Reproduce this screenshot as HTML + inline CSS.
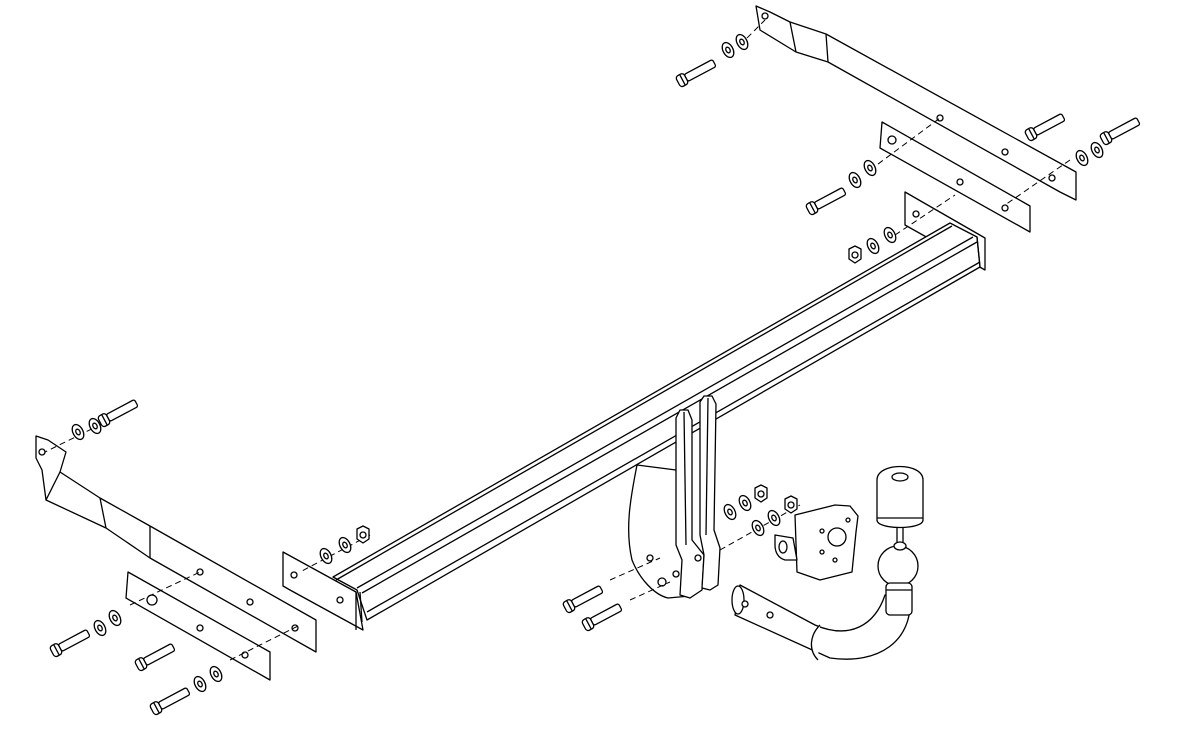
<!DOCTYPE html>
<html><head><meta charset="utf-8"><style>
html,body{margin:0;padding:0;background:#fff;width:1181px;height:736px;overflow:hidden}
svg{display:block}
</style></head><body>
<svg width="1181" height="736" viewBox="0 0 1181 736" xmlns="http://www.w3.org/2000/svg" fill="#fff" stroke="#000" stroke-width="1.3" stroke-linejoin="round">
<defs>
<g id="bolt"><rect x="0" y="-4" width="32" height="8" rx="2"/><rect x="-9" y="-6" width="9" height="12" rx="3"/><line x1="-4" y1="-6" x2="-4" y2="6"/></g>
<g id="wsh"><ellipse rx="5" ry="8"/><ellipse rx="2" ry="3"/></g>
<g id="nut"><polygon points="-6,-6 0,-9 6,-6 6,4 0,8 -6,4"/><ellipse rx="3" ry="3"/></g>
</defs>

<!-- right long bracket -->
<polygon points="756,6 770,12 790,22 826,34 1076,172 1076,200 1060,192 828,62 796,52 760,30"/>
<line x1="790" y1="22" x2="796" y2="52"/><line x1="826" y1="34" x2="828" y2="62"/>
<circle cx="765" cy="16" r="3"/>
<circle cx="940" cy="118" r="3"/><circle cx="1005" cy="152" r="3"/><circle cx="1052" cy="178" r="3"/>
<!-- right middle plate -->
<polygon points="882,122 1030,206 1030,232 880,148"/>
<circle cx="892" cy="140" r="4"/><circle cx="960" cy="182" r="3"/><circle cx="1005" cy="208" r="3"/>

<!-- right end plate (behind beam) -->
<polygon points="905,192 985,238 985,270 905,225"/>
<circle cx="916" cy="214" r="3"/>
<!-- main beam -->
<polygon points="333,577 950,223 977,237 980,267 367,620 357,590" fill="#fff"/>
<line x1="336" y1="580" x2="952" y2="226"/>
<line x1="357" y1="588" x2="973" y2="237"/>
<line x1="362" y1="593" x2="977" y2="242"/>
<line x1="367" y1="612" x2="980" y2="262"/>
<line x1="977" y1="237" x2="980" y2="267"/>
<line x1="360" y1="592" x2="362" y2="622"/>
<!-- left end plate -->
<polygon points="283,552 356,592 363,630 290,590 283,586"/>
<line x1="356" y1="592" x2="356" y2="630"/>
<circle cx="294" cy="575" r="3"/><circle cx="340" cy="600" r="3"/>

<!-- left bracket -->
<polygon points="36,436 48,440 66,452 60,472 100,498 150,526 316,620 316,652 150,558 106,528 46,500 42,470 36,458"/>
<line x1="60" y1="472" x2="46" y2="500"/><line x1="100" y1="498" x2="106" y2="528"/><line x1="150" y1="526" x2="150" y2="558"/>
<circle cx="42" cy="452" r="3"/>
<circle cx="200" cy="572" r="3"/><circle cx="250" cy="602" r="3"/><circle cx="295" cy="628" r="3"/>
<!-- left plate -->
<polygon points="128,572 270,652 270,680 126,598"/>
<circle cx="152" cy="600" r="5"/><circle cx="200" cy="628" r="3"/><circle cx="245" cy="655" r="3"/>

<!-- drop plates -->
<path d="M637,465 C630,500 625,530 632,560 C640,580 655,595 668,598 L690,596 L692,560 L680,545 L676,470 Z"/>
<path d="M676,418 L680,410 L688,410 L692,420 L692,540 L704,555 L702,590 L690,598 L680,595 L682,560 L676,545 Z"/>
<line x1="684" y1="412" x2="686" y2="545"/>
<path d="M700,402 L704,396 L712,396 L716,404 L714,530 L720,548 L718,585 L710,590 L702,588 L704,555 L700,535 Z"/>
<line x1="708" y1="398" x2="706" y2="535"/>
<circle cx="650" cy="558" r="3"/><circle cx="662" cy="582" r="4"/><circle cx="676" cy="574" r="3"/><circle cx="698" cy="558" r="3"/>

<!-- socket plate -->
<path d="M795,515 L835,505 L850,506 L858,516 L856,532 L852,572 L820,580 L797,572 Z"/>
<circle cx="837" cy="537" r="9"/>
<circle cx="822" cy="531" r="2"/><circle cx="822" cy="552" r="2"/><circle cx="848" cy="520" r="2"/><circle cx="835" cy="560" r="2"/>
<path d="M775,535 L793,538 L797,560 L785,560 C778,558 775,552 775,545 Z"/>
<ellipse cx="783" cy="547" rx="4" ry="6"/>
<!-- ball cap -->
<path d="M877,480 C877,462 923,462 923,480 L923,520 C923,530 877,530 877,520 Z"/>
<ellipse cx="900" cy="477" rx="8" ry="4"/>
<line x1="877" y1="518" x2="923" y2="518"/>
<line x1="897" y1="527" x2="897" y2="545"/><line x1="903" y1="527" x2="903" y2="545"/>
<!-- hook -->
<path d="M740,585 L815,625 C850,640 875,625 885,595 L910,600 C912,640 880,665 830,658 L735,615 Z"/>
<ellipse cx="738" cy="600" rx="6" ry="14"/>
<circle cx="745" cy="604" r="3"/><circle cx="770" cy="615" r="3"/>
<path d="M820,625 C810,635 808,650 818,660"/>
<circle cx="898" cy="566" r="20"/>
<rect x="886" y="583" width="26" height="32" rx="4"/>
<line x1="886" y1="590" x2="912" y2="590"/>
<ellipse cx="900" cy="546" rx="6" ry="4"/>

<!-- dashed alignment lines -->
<g stroke-dasharray="6,4" stroke-width="1" fill="none">
<line x1="740" y1="45" x2="765" y2="20"/>
<line x1="870" y1="170" x2="940" y2="118"/>
<line x1="1070" y1="160" x2="1005" y2="205"/>
<line x1="895" y1="235" x2="955" y2="195"/>
<line x1="110" y1="420" x2="45" y2="452"/>
<line x1="130" y1="605" x2="200" y2="572"/>
<line x1="230" y1="660" x2="300" y2="625"/>
<line x1="370" y1="535" x2="300" y2="572"/>
<line x1="610" y1="580" x2="660" y2="558"/>
<line x1="630" y1="600" x2="670" y2="582"/>
<line x1="720" y1="550" x2="800" y2="505"/>
</g>

<!-- bolts / washers / nuts -->
<g transform="translate(686,78) rotate(-28)"><use href="#bolt"/></g>
<g transform="translate(728,50) rotate(-28)"><use href="#wsh"/></g>
<g transform="translate(742,42) rotate(-28)"><use href="#wsh"/></g>
<g transform="translate(816,206) rotate(-28)"><use href="#bolt"/></g>
<g transform="translate(855,180) rotate(-28)"><use href="#wsh"/></g>
<g transform="translate(870,168) rotate(-28)"><use href="#wsh"/></g>
<g transform="translate(1035,132) rotate(-28)"><use href="#bolt"/></g>
<g transform="translate(1110,136) rotate(-28)"><use href="#bolt"/></g>
<g transform="translate(1082,158) rotate(-28)"><use href="#wsh"/></g>
<g transform="translate(1097,150) rotate(-28)"><use href="#wsh"/></g>
<g transform="translate(855,255)"><use href="#nut"/></g>
<g transform="translate(873,246) rotate(-28)"><use href="#wsh"/></g>
<g transform="translate(890,235) rotate(-28)"><use href="#wsh"/></g>
<g transform="translate(108,418) rotate(-28)"><use href="#bolt"/></g>
<g transform="translate(78,432) rotate(-28)"><use href="#wsh"/></g>
<g transform="translate(95,426) rotate(-28)"><use href="#wsh"/></g>
<g transform="translate(60,648) rotate(-28)"><use href="#bolt"/></g>
<g transform="translate(100,628) rotate(-28)"><use href="#wsh"/></g>
<g transform="translate(115,618) rotate(-28)"><use href="#wsh"/></g>
<g transform="translate(145,662) rotate(-28)"><use href="#bolt"/></g>
<g transform="translate(160,706) rotate(-28)"><use href="#bolt"/></g>
<g transform="translate(200,684) rotate(-28)"><use href="#wsh"/></g>
<g transform="translate(216,674) rotate(-28)"><use href="#wsh"/></g>
<g transform="translate(326,556) rotate(-28)"><use href="#wsh"/></g>
<g transform="translate(345,545) rotate(-28)"><use href="#wsh"/></g>
<g transform="translate(363,535)"><use href="#nut"/></g>
<g transform="translate(573,604) rotate(-28)"><use href="#bolt"/></g>
<g transform="translate(592,622) rotate(-28)"><use href="#bolt"/></g>
<g transform="translate(730,512) rotate(-28)"><use href="#wsh"/></g>
<g transform="translate(745,503) rotate(-28)"><use href="#wsh"/></g>
<g transform="translate(761,494)"><use href="#nut"/></g>
<g transform="translate(758,528) rotate(-28)"><use href="#wsh"/></g>
<g transform="translate(774,518) rotate(-28)"><use href="#wsh"/></g>
<g transform="translate(791,505)"><use href="#nut"/></g>
</svg>
</body></html>
